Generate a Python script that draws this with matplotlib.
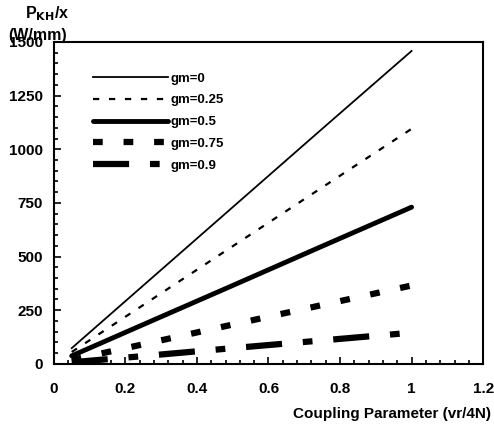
import matplotlib
matplotlib.use("Agg")
import matplotlib.pyplot as plt
from matplotlib.ticker import MultipleLocator, FuncFormatter

plt.rcParams["font.family"] = ["Liberation Sans", "DejaVu Sans"]
plt.rcParams["font.weight"] = "bold"
plt.rcParams["lines.scale_dashes"] = False

# coupling parameter and P_KH/x values (W/mm)
coupling = [0.05, 0.25, 0.5, 0.75, 1.0]
p_gm0 = [73, 365, 730, 1095, 1458]
p_gm025 = [55, 274, 548, 822, 1095]
p_gm05 = [37, 183, 365, 548, 730]
p_gm075 = [18, 91, 183, 274, 365]
p_gm09 = [7, 36, 73, 109, 145]
labels = ["gm=0", "gm=0.25", "gm=0.5", "gm=0.75", "gm=0.9"]

fig = plt.figure(figsize=(4.94, 4.28), dpi=100)
ax = fig.add_axes([0.109, 0.150, 0.869, 0.752])

ax.plot(coupling, p_gm0, color="black", lw=1.3, label=labels[0])
ax.plot(coupling, p_gm025, color="black", lw=1.6, dashes=(4.5, 7), label=labels[1])
ax.plot(coupling, p_gm05, color="black", lw=3.5, solid_capstyle="round", label=labels[2])
ax.plot(coupling, p_gm075, color="black", lw=4.5, dashes=(7, 15), label=labels[3])
ax.plot(coupling, p_gm09, color="black", lw=4.5, dashes=(26, 15, 7, 15), label=labels[4])

ax.set_xlim(0, 1.2)
ax.set_ylim(0, 1500)
ax.xaxis.set_major_locator(MultipleLocator(0.2))
ax.xaxis.set_minor_locator(MultipleLocator(0.04))
ax.yaxis.set_major_locator(MultipleLocator(250))
ax.yaxis.set_minor_locator(MultipleLocator(50))
ax.xaxis.set_major_formatter(FuncFormatter(lambda v, p: f"{v:g}"))
ax.tick_params(which="both", direction="in", width=1.2, labelsize=11)
ax.tick_params(which="major", length=5)
ax.tick_params(which="minor", length=3)
ax.tick_params(axis="x", pad=13)
ax.tick_params(axis="y", pad=8)
ax.tick_params(top=False, right=False, which="both")
for sp in ax.spines.values():
    sp.set_linewidth(1.5)

ax.legend(loc="upper left", bbox_to_anchor=(0.091, 0.905), frameon=False,
          borderpad=0, borderaxespad=0,
          handlelength=5.7, handletextpad=0.15, labelspacing=0.72,
          prop={"size": 9.5, "weight": "bold"})

fig.text(0.051, 0.958, r"P$_{\mathbf{KH}}$/x", fontsize=11.5, weight="bold")
fig.text(0.016, 0.906, "(W/mm)", fontsize=11.5, weight="bold")
fig.text(0.993, 0.024, "Coupling Parameter (vr/4N)", fontsize=11, weight="bold", ha="right")

fig.savefig("out.png", dpi=100, facecolor="white")
